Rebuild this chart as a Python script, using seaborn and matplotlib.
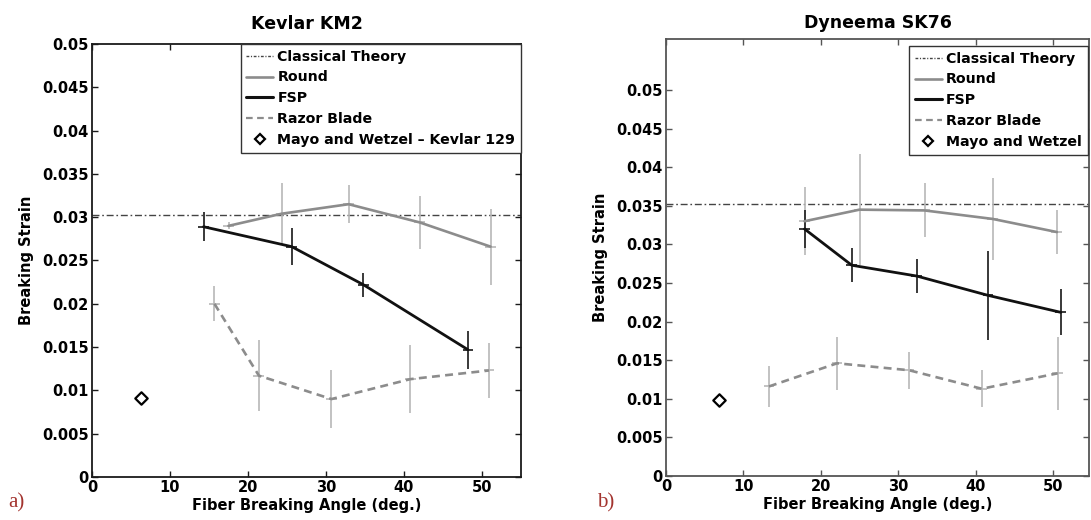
import matplotlib
matplotlib.use("Agg")
import matplotlib.pyplot as plt
import seaborn as sns
import numpy as np
import pandas as pd
from matplotlib.lines import Line2D
from matplotlib.ticker import FuncFormatter, FixedLocator

# ---------------- data ----------------
# Panel a: Kevlar KM2
kev_title = "Kevlar KM2"
kev_classical = 0.0303
kev_round_x = [17.5, 24.3, 32.9, 42.0, 51.1]
kev_round_y = [0.0290, 0.0304, 0.0315, 0.0294, 0.0266]
kev_round_err = [0.0004, 0.0036, 0.0022, 0.0031, 0.0044]
kev_fsp_x = [14.3, 25.6, 34.8, 48.2]
kev_fsp_y = [0.0289, 0.0266, 0.0222, 0.0147]
kev_fsp_err = [0.0017, 0.0021, 0.0014, 0.0022]
kev_razor_x = [15.7, 21.4, 30.7, 40.8, 50.9]
kev_razor_y = [0.0200, 0.0117, 0.0090, 0.0113, 0.0123]
kev_razor_err = [0.0020, 0.0041, 0.0033, 0.0039, 0.0032]
kev_mayo_x = [6.3]
kev_mayo_y = [0.0091]
kev_mayo_label = "Mayo and Wetzel \u2013 Kevlar 129"

# Panel b: Dyneema SK76
dyn_title = "Dyneema SK76"
dyn_classical = 0.0352
dyn_round_x = [17.9, 25.0, 33.4, 42.2, 50.5]
dyn_round_y = [0.0330, 0.0345, 0.0344, 0.0333, 0.0316]
dyn_round_err = [0.0044, 0.0072, 0.0035, 0.0053, 0.0028]
dyn_fsp_x = [17.9, 24.0, 32.4, 41.6, 51.0]
dyn_fsp_y = [0.0320, 0.0273, 0.0259, 0.0234, 0.0212]
dyn_fsp_err = [0.0025, 0.0022, 0.0022, 0.0058, 0.0030]
dyn_razor_x = [13.3, 22.1, 31.4, 40.8, 50.6]
dyn_razor_y = [0.0116, 0.0146, 0.0137, 0.0113, 0.0133]
dyn_razor_err = [0.0026, 0.0034, 0.0024, 0.0024, 0.0047]
dyn_mayo_x = [6.8]
dyn_mayo_y = [0.0098]
dyn_mayo_label = "Mayo and Wetzel"

angle_err = 0.7
x_ticks = [0, 10, 20, 30, 40, 50]
y_ticks = [0, 0.005, 0.01, 0.015, 0.02, 0.025, 0.03, 0.035, 0.04, 0.045, 0.05]

# ---------------- style ----------------
sns.set_style("ticks")
plt.rcParams["font.family"] = ["DejaVu Sans"]
plt.rcParams["font.weight"] = "bold"
plt.rcParams["text.color"] = "black"
plt.rcParams["axes.labelcolor"] = "black"
plt.rcParams["xtick.labelcolor"] = "black"
plt.rcParams["ytick.labelcolor"] = "black"

W, H = 1091, 520
fig = plt.figure(figsize=(W / 100, H / 100), dpi=100)

C_ROUND = "#8c8c8c"
C_ROUND_ERR = "#b8b8b8"
C_FSP = "#111111"
C_FSP_ERR = "#2a2a2a"
C_CLASS = "#444444"


def panel(ax, title, classical, rx, ry, re, fx, fy, fe, zx, zy, ze, mx, my,
          mayo_label, xmax, ymax, spine_color, title_pad, legend_anchor):
    ax.set_xlim(0, xmax)
    ax.set_ylim(0, ymax)
    # classical theory line
    ax.axhline(classical, color=C_CLASS, lw=1.0, dashes=(5, 2, 1.2, 2), zorder=2)
    # error bars
    ax.errorbar(rx, ry, yerr=re, xerr=angle_err, fmt="none", ecolor=C_ROUND_ERR,
                elinewidth=1.2, capsize=0, zorder=3)
    ax.errorbar(zx, zy, yerr=ze, xerr=angle_err, fmt="none", ecolor=C_ROUND_ERR,
                elinewidth=1.2, capsize=0, zorder=3)
    ax.errorbar(fx, fy, yerr=fe, xerr=angle_err, fmt="none", ecolor=C_FSP_ERR,
                elinewidth=1.3, capsize=0, zorder=4)
    # lines through seaborn
    sns.lineplot(x=rx, y=ry, ax=ax, color=C_ROUND, lw=1.9, zorder=5, sort=False)
    sns.lineplot(x=fx, y=fy, ax=ax, color=C_FSP, lw=2.0, zorder=6, sort=False)
    sns.lineplot(x=zx, y=zy, ax=ax, color=C_ROUND, lw=1.9, zorder=5, sort=False,
                 dashes=False, linestyle=(0, (3, 2)))
    sns.scatterplot(x=mx, y=my, ax=ax, marker="D", s=40, facecolor="white",
                    edgecolor="black", linewidth=1.6, zorder=7)

    ax.xaxis.set_major_locator(FixedLocator(x_ticks))
    ax.yaxis.set_major_locator(FixedLocator(y_ticks))
    ax.yaxis.set_major_formatter(FuncFormatter(lambda v, p: f"{v:g}"))
    ax.tick_params(direction="in", length=4, width=1, top=True, right=True,
                   labelsize=10.5, color=spine_color, labelcolor="black", pad=2.5)
    for lab in ax.get_xticklabels() + ax.get_yticklabels():
        lab.set_fontweight("bold")
    for sp in ax.spines.values():
        sp.set_color(spine_color)
        sp.set_linewidth(1.3)
        sp.set_visible(True)
    ax.set_xlabel("Fiber Breaking Angle (deg.)", fontsize=10.5, fontweight="bold",
                  labelpad=2, color="black")
    ax.set_ylabel("Breaking Strain", fontsize=10.5, fontweight="bold", labelpad=6,
                  color="black")
    ax.set_title(title, fontsize=12.5, fontweight="bold", pad=title_pad,
                 color="black")

    handles = [
        Line2D([], [], color=C_CLASS, lw=1.0, dashes=(2, 1.2, 0.8, 1.2)),
        Line2D([], [], color=C_ROUND, lw=1.9),
        Line2D([], [], color=C_FSP, lw=2.2),
        Line2D([], [], color=C_ROUND, lw=1.6, linestyle=(0, (3, 2))),
        Line2D([], [], color="black", lw=0, marker="D", markersize=5.5,
               markerfacecolor="white", markeredgewidth=1.6),
    ]
    labels = ["Classical Theory", "Round", "FSP", "Razor Blade", mayo_label]
    leg = ax.legend(handles, labels, loc="upper right", bbox_to_anchor=legend_anchor,
                    borderaxespad=0, frameon=True, fancybox=False, framealpha=1,
                    edgecolor="#333333", fontsize=10.2, labelspacing=0.48,
                    handlelength=1.9, handletextpad=0.3, borderpad=0.4)
    leg.get_frame().set_linewidth(1.0)
    for t in leg.get_texts():
        t.set_fontweight("bold")
        t.set_color("black")


# panel a geometry (pixels)
a_left, a_right, a_top, a_bottom = 92, 521, 44, 477
ax_a = fig.add_axes([a_left / W, 1 - a_bottom / H, (a_right - a_left) / W,
                     (a_bottom - a_top) / H])
panel(ax_a, kev_title, kev_classical, kev_round_x, kev_round_y, kev_round_err,
      kev_fsp_x, kev_fsp_y, kev_fsp_err, kev_razor_x, kev_razor_y, kev_razor_err,
      kev_mayo_x, kev_mayo_y, kev_mayo_label, 55, 0.05, "#1a1a1a", 11, (1, 1))

# panel b geometry (pixels)
b_left, b_right, b_top, b_bottom = 666, 1089, 39, 476
ax_b = fig.add_axes([b_left / W, 1 - b_bottom / H, (b_right - b_left) / W,
                     (b_bottom - b_top) / H])
b_xmax = (b_right - b_left) / 7.74
b_ymax = (b_bottom - b_top) / 7720.0
panel(ax_b, dyn_title, dyn_classical, dyn_round_x, dyn_round_y, dyn_round_err,
      dyn_fsp_x, dyn_fsp_y, dyn_fsp_err, dyn_razor_x, dyn_razor_y, dyn_razor_err,
      dyn_mayo_x, dyn_mayo_y, dyn_mayo_label, b_xmax, b_ymax, "#555555", 8,
      (1 - 1.5 / (b_right - b_left), 1 - 7 / (b_bottom - b_top)))

# panel letters
fig.text(8 / W, 1 - 507 / H, "a)", fontsize=15, color="#a3342f",
         family=["Liberation Serif", "DejaVu Serif"], fontweight="normal")
fig.text(597 / W, 1 - 507 / H, "b)", fontsize=15, color="#a3342f",
         family=["Liberation Serif", "DejaVu Serif"], fontweight="normal")

fig.savefig("out.png", dpi=100, facecolor="white")
